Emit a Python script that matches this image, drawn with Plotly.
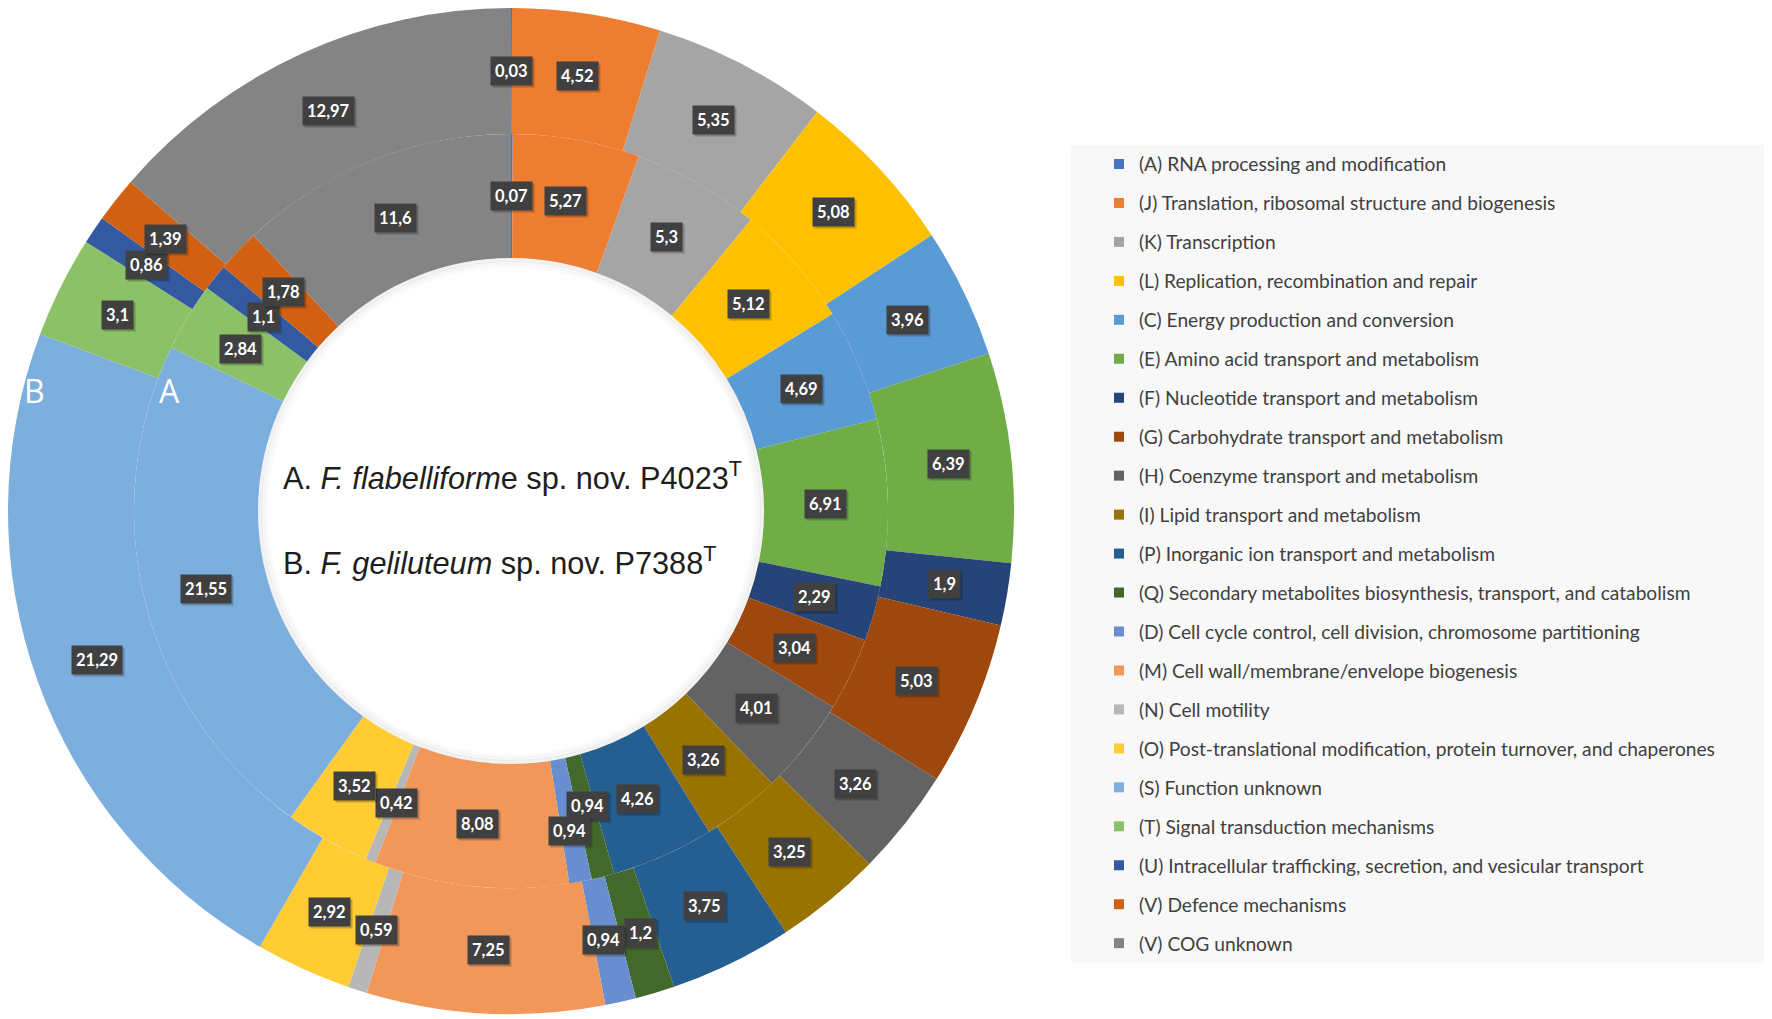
import math
import plotly.graph_objects as go

# COG categories (legend order = order around the ring, clockwise from 12 o'clock)
categories = [
    "(A) RNA processing and modification",
    "(J) Translation, ribosomal structure and biogenesis",
    "(K) Transcription",
    "(L) Replication, recombination and repair",
    "(C) Energy production and conversion",
    "(E) Amino acid transport and metabolism",
    "(F) Nucleotide transport and metabolism",
    "(G) Carbohydrate transport and metabolism",
    "(H) Coenzyme transport and metabolism",
    "(I) Lipid transport and metabolism",
    "(P) Inorganic ion transport and metabolism",
    "(Q) Secondary metabolites biosynthesis, transport, and catabolism",
    "(D) Cell cycle control, cell division, chromosome partitioning",
    "(M) Cell wall/membrane/envelope biogenesis",
    "(N) Cell motility",
    "(O) Post-translational modification, protein turnover, and chaperones",
    "(S) Function unknown",
    "(T) Signal transduction mechanisms",
    "(U) Intracellular trafficking, secretion, and vesicular transport",
    "(V) Defence mechanisms",
    "(V) COG unknown",
]

# A. F. flabelliforme P4023 (inner ring)
values_a = [0.07, 5.27, 5.3, 5.12, 4.69, 6.91, 2.29, 3.04, 4.01, 3.26, 4.26,
            0.94, 0.94, 8.08, 0.42, 3.52, 21.55, 2.84, 1.1, 1.78, 11.6]

# B. F. geliluteum P7388 (outer ring)
values_b = [0.03, 4.52, 5.35, 5.08, 3.96, 6.39, 1.9, 5.03, 3.26, 3.25, 3.75,
            1.2, 0.94, 7.25, 0.59, 2.92, 21.29, 3.1, 0.86, 1.39, 12.97]

colors = ["#4472C4", "#ED7D31", "#A5A5A5", "#FFC000", "#5B9BD5", "#70AD47",
          "#264478", "#9E480E", "#636363", "#997300", "#255E91", "#43682B",
          "#698ED0", "#F1975A", "#B7B7B7", "#FFCD33", "#7CAFDD", "#8CC168",
          "#335AA1", "#D26012", "#848484"]

# figure geometry (px, figure coordinates)
W, H = 1772, 1019
CX, CY = 503, 503
R_OUT, R_MID, R_IN = 503, 377, 253


def xp(px):
    return px / W


def yp(py):
    return 1 - py / H


def domain(r):
    return dict(x=[xp(CX - r), xp(CX + r)], y=[yp(CY + r), yp(CY - r)])


def label_points(values, r):
    # centre of every slice, halfway across the ring
    total = sum(values)
    pts, cum = [], 0
    for v in values:
        ang = (cum + v / 2) / total * 2 * math.pi
        pts.append([CX + r * math.sin(ang), CY - r * math.cos(ang)])
        cum += v
    return pts


def fmt(v):
    return str(v).replace(".", ",")


def spread(pts, texts):
    # push neighbouring labels apart when their boxes collide
    for i in range(len(pts) - 1):
        a, b = pts[i], pts[i + 1]
        wa, wb = 8.5 * len(texts[i]) + 8, 8.5 * len(texts[i + 1]) + 8
        dx, dy = b[0] - a[0], b[1] - a[1]
        ox = (wa + wb) / 2 - abs(dx)
        oy = 25 - abs(dy)
        if ox > 0 and oy > 0:
            if ox < oy:
                s = math.copysign(ox / 2, dx if dx else 1)
                a[0] -= s
                b[0] += s
            else:
                s = math.copysign(oy / 2, dy if dy else 1)
                a[1] -= s
                b[1] += s
    return pts


fig = go.Figure()

# outer ring B
fig.add_trace(go.Pie(
    labels=categories, values=values_b, hole=R_MID / R_OUT, domain=domain(R_OUT),
    sort=False, direction="clockwise", rotation=0,
    marker=dict(colors=colors, line=dict(width=0)),
    textinfo="none", hoverinfo="label+value", showlegend=False, name="B"
))

# inner ring A
fig.add_trace(go.Pie(
    labels=categories, values=values_a, hole=R_IN / R_MID, domain=domain(R_MID),
    sort=False, direction="clockwise", rotation=0,
    marker=dict(colors=colors, line=dict(width=0)),
    textinfo="none", hoverinfo="label+value", showlegend=False, name="A"
))

# legend entries
for name, c in zip(categories, colors):
    fig.add_trace(go.Scatter(
        x=[None], y=[None], mode="markers", name=name, legendgroup=name,
        marker=dict(symbol="square", size=10, color=c), hoverinfo="skip"
    ))

annotations = []
for values, r in [(values_b, (R_MID + R_OUT) / 2), (values_a, (R_IN + R_MID) / 2)]:
    texts = [fmt(v) for v in values]
    pts = spread(label_points(values, r), texts)
    for (px, py), t in zip(pts, texts):
        # soft drop shadow behind the label box
        annotations.append(dict(
            x=xp(px), y=yp(py), xref="paper", yref="paper", text=t,
            showarrow=False, xanchor="center", yanchor="middle",
            xshift=2, yshift=-2, bgcolor="rgba(0,0,0,0.22)", borderpad=4,
            font=dict(family="Lato", size=16.5, color="rgba(0,0,0,0)", weight="bold")
        ))
        annotations.append(dict(
            x=xp(px), y=yp(py), xref="paper", yref="paper", text=t,
            showarrow=False, xanchor="center", yanchor="middle",
            bgcolor="#404040", borderpad=4,
            font=dict(family="Lato", size=16.5, color="white", weight="bold")
        ))

# ring letters
for t, px in [("A", 161), ("B", 26)]:
    annotations.append(dict(
        x=xp(px), y=yp(382), xref="paper", yref="paper", text=t,
        showarrow=False, xanchor="center", yanchor="middle",
        font=dict(family="Open Sans", size=32, color="white")
    ))

# strain names in the hole
for t, py in [("A. <i>F. flabelliform</i>e sp. nov. P4023<sup>T</sup>", 468),
              ("B. <i>F. geliluteum</i> sp. nov. P7388<sup>T</sup>", 553)]:
    annotations.append(dict(
        x=xp(273), y=yp(py), xref="paper", yref="paper", text=t,
        showarrow=False, xanchor="left", yanchor="middle",
        font=dict(family="Liberation Sans", size=30.7, color="#1e1e1e")
    ))

# faint shadow along the rim of the hole
shapes = [
    dict(type="circle", xref="paper", yref="paper",
         x0=xp(CX - rr), x1=xp(CX + rr), y0=yp(CY + rr), y1=yp(CY - rr),
         line=dict(color="rgba(0,0,0,%s)" % a, width=w), layer="above")
    for rr, w, a in [(R_IN - 2, 4, 0.05), (R_IN - 5, 4, 0.03), (R_IN - 8, 4, 0.015)]
]
# legend panel
shapes.append(dict(type="rect", xref="paper", yref="paper",
                   x0=xp(1063), x1=xp(1762), y0=yp(955), y1=yp(137),
                   fillcolor="#f8f8f8", line=dict(width=0), layer="below"))

fig.update_layout(
    width=W, height=H,
    margin=dict(l=0, r=0, t=0, b=0),
    paper_bgcolor="white",
    plot_bgcolor="rgba(0,0,0,0)",
    xaxis=dict(visible=False),
    yaxis=dict(visible=False),
    annotations=annotations,
    shapes=shapes,
    showlegend=True,
    legend=dict(
        x=xp(1091), y=yp(137), xanchor="left", yanchor="top",
        bgcolor="rgba(0,0,0,0)", traceorder="grouped", tracegroupgap=11.0,
        font=dict(family="Lato", size=19.2, color="#404040")
    ),
)

fig.write_html("out.html")
